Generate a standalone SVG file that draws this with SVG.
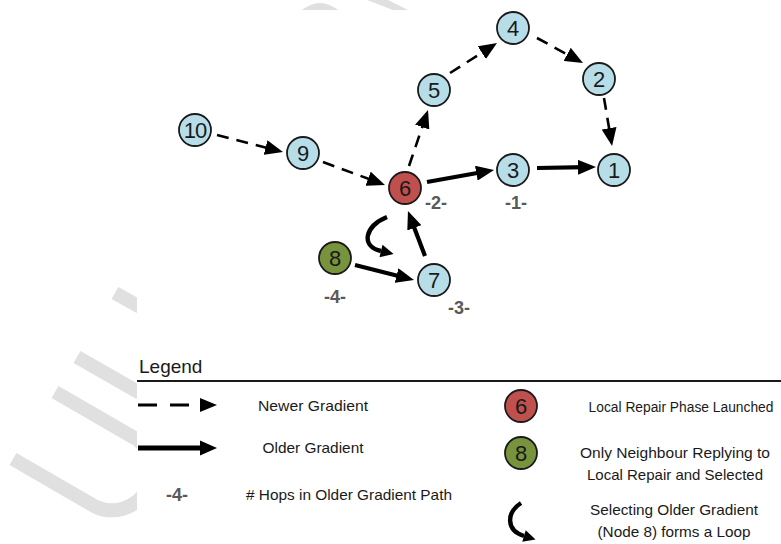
<svg xmlns="http://www.w3.org/2000/svg" width="781" height="544" viewBox="0 0 781 544">
<style>
.node circle{stroke:#1a1a1a;stroke-width:1.8}
.blue{fill:#b7dee8}
.red{fill:#c0504d}
.green{fill:#77933c}
.num{font-family:"Liberation Sans",Arial,sans-serif;font-size:22px;fill:#1a1a1a;text-anchor:middle}
.hop{font-family:"Liberation Sans",Arial,sans-serif;font-size:18px;font-weight:bold;fill:#595959;text-anchor:middle}
.lg{font-family:"Liberation Sans",Arial,sans-serif;font-size:15px;fill:#1a1a1a;text-anchor:middle}
.newer{stroke:#000;stroke-width:2.6;stroke-dasharray:12 8;fill:none;marker-end:url(#ah)}
.older{stroke:#000;stroke-width:4.2;fill:none;marker-end:url(#ah)}
.wm{stroke:#e0e0e0;stroke-width:14;fill:none}
</style>
<defs>
<marker id="ah" markerUnits="userSpaceOnUse" markerWidth="18" markerHeight="15" refX="8" refY="7.5" orient="auto" viewBox="0 0 18 15"><path d="M0,0 L18,7.5 L0,15 z" fill="#000"/></marker>
</defs>
<rect width="781" height="544" fill="#fff"/>
<g id="watermark">
<path class="wm" d="M13,459 L96,507 A40,40 0 0 0 138,440 L55,392"/>
<path class="wm" d="M77,357 L140,393"/>
<path class="wm" d="M115,293 L140,307"/>
<path d="M302,10 Q320,-4 338,10 Z" fill="#e0e0e0"/>
<path d="M367,0 L388,0 L408,10 L393,10 Z" fill="#e0e0e0"/>
<rect x="137" y="10" width="644" height="534" fill="#fff"/>
</g>
<g id="connectors">
<path class="newer" d="M217,135 L273.3,149.5"/>
<path class="newer" d="M323,162 L375.6,181.5"/>
<path class="newer" d="M409,166 L424.8,119.5"/>
<path class="newer" d="M450,73 L488.6,48.4"/>
<path class="newer" d="M537,38 L574.2,58.2"/>
<path class="newer" d="M604,98 L610.4,136.1"/>
<path class="older" d="M427,182 L484.2,171.8"/>
<path class="older" d="M537,168 L586,167.2"/>
<path class="older" d="M355,265 L404.3,277.5"/>
<path class="older" d="M425,256 L411.5,220.4"/>
<g id="loop">
<path d="M387,217 C365,226 360,246 381,251" stroke="#000" stroke-width="4.4" fill="none"/>
<polygon points="379.5,257.3 382.5,244.7 393.6,254" fill="#000"/>
</g>
</g>
<g id="n1" class="node"><circle class="blue" cx="614" cy="170" r="16"/><text class="num" x="614" y="178">1</text></g>
<g id="n2" class="node"><circle class="blue" cx="599" cy="79" r="16"/><text class="num" x="599" y="87">2</text></g>
<g id="n3" class="node"><circle class="blue" cx="513" cy="170" r="16"/><text class="num" x="513" y="178">3</text></g>
<g id="n4" class="node"><circle class="blue" cx="513" cy="28" r="16"/><text class="num" x="513" y="36">4</text></g>
<g id="n5" class="node"><circle class="blue" cx="434" cy="90" r="16"/><text class="num" x="434" y="98">5</text></g>
<g id="n6" class="node"><circle class="red" cx="405" cy="188" r="16"/><text class="num" x="405" y="196">6</text></g>
<g id="n7" class="node"><circle class="blue" cx="434" cy="280" r="16"/><text class="num" x="434" y="288">7</text></g>
<g id="n8" class="node"><circle class="green" cx="335" cy="258" r="16"/><text class="num" x="335" y="266">8</text></g>
<g id="n9" class="node"><circle class="blue" cx="303" cy="153" r="16"/><text class="num" x="303" y="161">9</text></g>
<g id="n10" class="node"><circle class="blue" cx="195" cy="130" r="16"/><text class="num" x="195" y="138" style="letter-spacing:-1px">10</text></g>
<g id="hops">
<text class="hop" x="436" y="209">-2-</text>
<text class="hop" x="516" y="209">-1-</text>
<text class="hop" x="459" y="314">-3-</text>
<text class="hop" x="335" y="303">-4-</text>
</g>
<g id="legend">
<text x="139" y="373" font-family="Liberation Sans, Arial, sans-serif" font-size="19" fill="#1a1a1a">Legend</text>
<line x1="137" y1="381" x2="781" y2="381" stroke="#1a1a1a" stroke-width="2"/>
<line x1="138" y1="405" x2="190" y2="405" stroke="#000" stroke-width="3" stroke-dasharray="19 13"/>
<polygon points="200,398 217,405 200,412" fill="#000"/>
<text class="lg" x="313" y="411" textLength="110" lengthAdjust="spacingAndGlyphs">Newer Gradient</text>
<line x1="138" y1="448" x2="204" y2="448" stroke="#000" stroke-width="5"/>
<polygon points="200,440.5 217,448 200,455.5" fill="#000"/>
<text class="lg" x="313" y="453" textLength="101" lengthAdjust="spacingAndGlyphs">Older Gradient</text>
<text class="hop" x="177" y="501">-4-</text>
<text class="lg" x="349" y="500" textLength="206" lengthAdjust="spacingAndGlyphs"># Hops in Older Gradient Path</text>
<g id="lg6" class="node"><circle class="red" cx="521" cy="406" r="16"/><text class="num" x="521" y="414">6</text></g>
<text class="lg" x="681" y="412" style="font-size:13.8px">Local Repair Phase Launched</text>
<g id="lg8" class="node"><circle class="green" cx="521" cy="453" r="16"/><text class="num" x="521" y="461">8</text></g>
<text class="lg" x="675" y="458" textLength="190" lengthAdjust="spacingAndGlyphs">Only Neighbour Replying to</text>
<text class="lg" x="675" y="480" textLength="176" lengthAdjust="spacingAndGlyphs">Local Repair and Selected</text>
<path d="M521,503 C507,512 505,530 524,536" stroke="#000" stroke-width="4.4" fill="none"/>
<polygon points="522.3,541.8 525.7,530.2 535.5,539.4" fill="#000"/>
<text class="lg" x="674" y="515" textLength="168" lengthAdjust="spacingAndGlyphs">Selecting Older Gradient</text>
<text class="lg" x="674" y="537" textLength="153" lengthAdjust="spacingAndGlyphs">(Node 8) forms a Loop</text>
</g>
</svg>
